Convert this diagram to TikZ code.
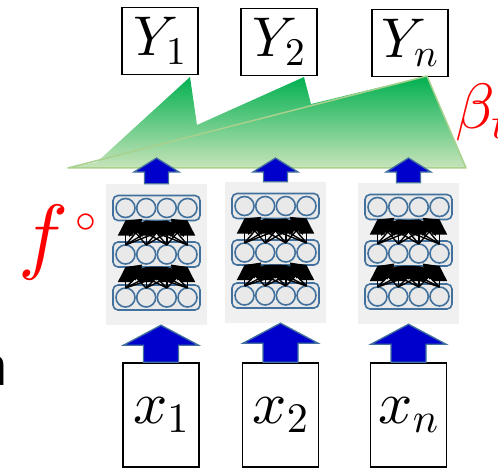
\documentclass[tikz,border=0pt]{standalone}
\usepackage{amsmath}
\usetikzlibrary{calc,arrows.meta}

% scalable math fonts for the large labels
\DeclareFontShape{OT1}{cmr}{m}{n}{<->cmr10}{}
\DeclareFontShape{OML}{cmm}{m}{it}{<->cmmi10}{\skewchar\font127 }
\DeclareFontShape{OMS}{cmsy}{m}{n}{<->cmsy10}{\skewchar\font48 }

\definecolor{netblue}{RGB}{65,113,156}
\definecolor{panelgray}{RGB}{240,240,240}
\definecolor{arrowblue}{RGB}{0,0,204}
\definecolor{betagreen}{RGB}{0,176,80}
\definecolor{palegreen}{RGB}{200,228,186}
\definecolor{edgegreen}{RGB}{169,209,142}

\tikzset{
  outbox/.style={draw=black, line width=1.5pt, fill=white, minimum width=76pt,
    minimum height=67pt, inner sep=0pt, font=\fontsize{56}{60}\selectfont},
  inbox/.style={outbox, minimum height=104pt, font=\fontsize{60}{64}\selectfont},
  panel/.style={fill=panelgray, minimum width=101pt, minimum height=141pt, inner sep=0pt},
  layer/.style={draw=netblue, line width=1.6pt, rounded corners=5pt, fill=panelgray!97!black},
  neuron/.style={draw=netblue, line width=1.6pt, fill=panelgray!97!black},
  link/.style={black, line width=1.4pt, -{Triangle[width=15pt,length=15pt]}},
  blockarrow/.style={fill=arrowblue, draw=netblue, line width=1.3pt, line join=miter}
}

% block arrow: base node, tip level, shaft half width, head half width, head length
\newcommand{\blockup}[5]{%
  \filldraw[blockarrow] ($(#1)+(-#3,0)$) -- ($(#1 |- #2)+(-#3,#5)$)
    -- ($(#1 |- #2)+(-#4,#5)$) -- (#1 |- #2) -- ($(#1 |- #2)+(#4,#5)$)
    -- ($(#1 |- #2)+(#3,#5)$) -- ($(#1)+(#3,0)$) -- cycle;}

\begin{document}
\begin{tikzpicture}[x=1pt, y=-1pt]
\useasboundingbox (0,0) rectangle (498,468);

%%%%%%%%%%
% Outputs and inputs
%%%%%%%%%%
\node[outbox] (Y1) at (160,41) {$Y_1$};
\node[outbox] (Y2) at (279,42) {$Y_2$};
\node[outbox] (Yn) at (410,43) {$Y_n$};

\node[inbox] (x1) at (161,415) {$x_1$};
\node[inbox] (x2) at (280.5,415) {$x_2$};
\node[inbox] (xn) at (408.5,415) {$x_n$};

%%%%%%%%%%
% Networks
%%%%%%%%%%
\node[panel] (net1) at (156.5,254.5) {};
\node[panel] (net2) at (275.5,252.5) {};
\node[panel] (net3) at (408.5,253.5) {};

\foreach \p in {net1,net2,net3} {
  \foreach \ly in {-46.5,0,43} {
    \draw[layer] ($(\p)+(-43.5,\ly-12.5)$) rectangle ($(\p)+(43.5,\ly+12.5)$);
    \foreach \cx in {-31,-10.3,10.3,31}
      \draw[neuron] ($(\p)+(\cx,\ly)$) circle[radius=9.5];
  }
  % dense links, lower layer to upper layer
  \foreach \lo/\hi in {0/-46.5, 43/0}
    \foreach \a in {-31,-10.3,10.3,31}
      \foreach \b in {-31,-10.3,10.3,31}
        \draw[link] ($(\p)+(\a,\lo-9.5)$) -- ($(\p)+(\b,\hi+12.5)$);
}

%%%%%%%%%%
% Ensemble weights (green)
%%%%%%%%%%
\shade[top color=betagreen, bottom color=palegreen]
  (68,168) -- (97,162) -- (190,77) -- (197,125) -- (304,77) -- (311,104)
  -- (427,76) -- (466,168) -- cycle;
\draw[edgegreen, line width=1.5pt, line join=round] (68,168) -- (427,76) -- (466,168) -- cycle;

%%%%%%%%%%
% Block arrows
%%%%%%%%%%
\coordinate (bandtop) at (0,158);
\foreach \p in {net1,net2,net3}
  \blockup{\p.north}{bandtop}{12}{22.5}{14};
\blockup{x1.north}{net1.south}{17.5}{37.5}{20}
\blockup{x2.north}{net2.south}{17.5}{37.5}{20}
\blockup{xn.north}{net3.south}{17.5}{37.5}{20}

%%%%%%%%%%
% Labels
%%%%%%%%%%
\node[red, anchor=base west, inner sep=0pt, font=\fontsize{84}{90}\selectfont] (fcirc) at (18,263) {$f^{\scriptscriptstyle\,\circ}$};
\node[red, anchor=base west, inner sep=0pt, font=\fontsize{64}{70}\selectfont] (beta) at (455,129) {$\beta_t$};
\node[anchor=base east, inner sep=0pt, font=\sffamily\fontsize{67}{70}\selectfont] (cut) at (9,385) {n};

\end{tikzpicture}
\end{document}
